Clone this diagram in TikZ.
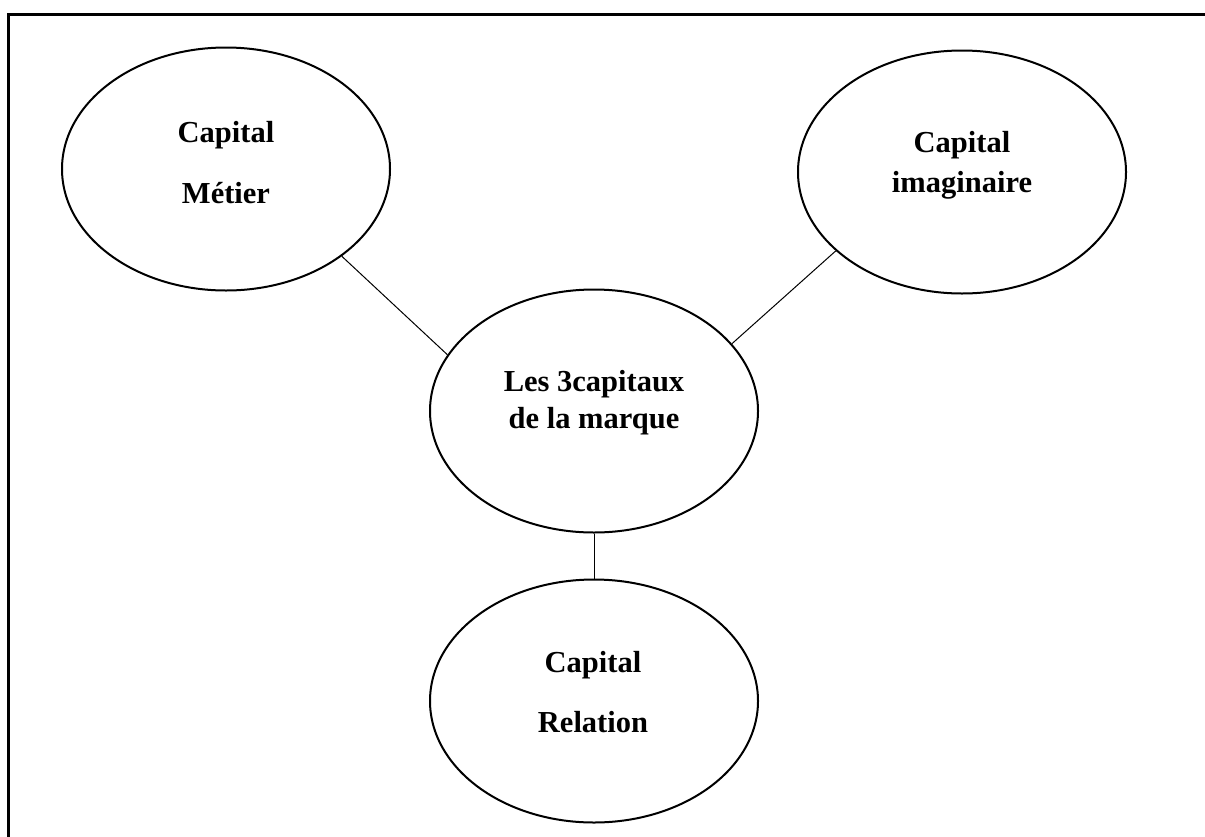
\documentclass[tikz,border=0pt]{standalone}
\usepackage{fontspec}
\setmainfont{Liberation Serif}
\usetikzlibrary{shapes.geometric}
\begin{document}
\begin{tikzpicture}[x=1pt,y=-1pt,
  bubble/.style={ellipse, draw, line width=2pt, minimum width=328pt, minimum height=243pt, inner sep=0pt},
  lbl/.style={anchor=base, inner sep=0pt, font=\fontsize{30.5}{36}\selectfont\bfseries},
  link/.style={draw, line width=1pt}]
\useasboundingbox (0,0) rectangle (1205,836);
\draw[line width=3pt] (8,840) -- (8,14) -- (1210,14);
% ellipses
\node[bubble] (metier) at (226,169) {};
\node[bubble] (imag) at (962,172) {};
\node[bubble] (centre) at (594,411) {};
\node[bubble] (relation) at (594,701) {};
% texts
\node[lbl] (t1a) at (226,142) {Capital};
\node[lbl] (t1b) at (226,203) {Métier};
\node[lbl] (t2a) at (962,152) {Capital};
\node[lbl] (t2b) at (962,192) {imaginaire};
\node[lbl] (t3a) at (594,391) {Les 3capitaux};
\node[lbl] (t3b) at (594,428) {de la marque};
\node[lbl] (t4a) at (593,672) {Capital};
\node[lbl] (t4b) at (593,732) {Relation};
% connectors
\path[link] (metier.-37) -- (centre.159);
\path[link] (imag.-148) -- (centre.26);
\path[link] (centre.south) -- (relation.north);
\end{tikzpicture}
\end{document}
